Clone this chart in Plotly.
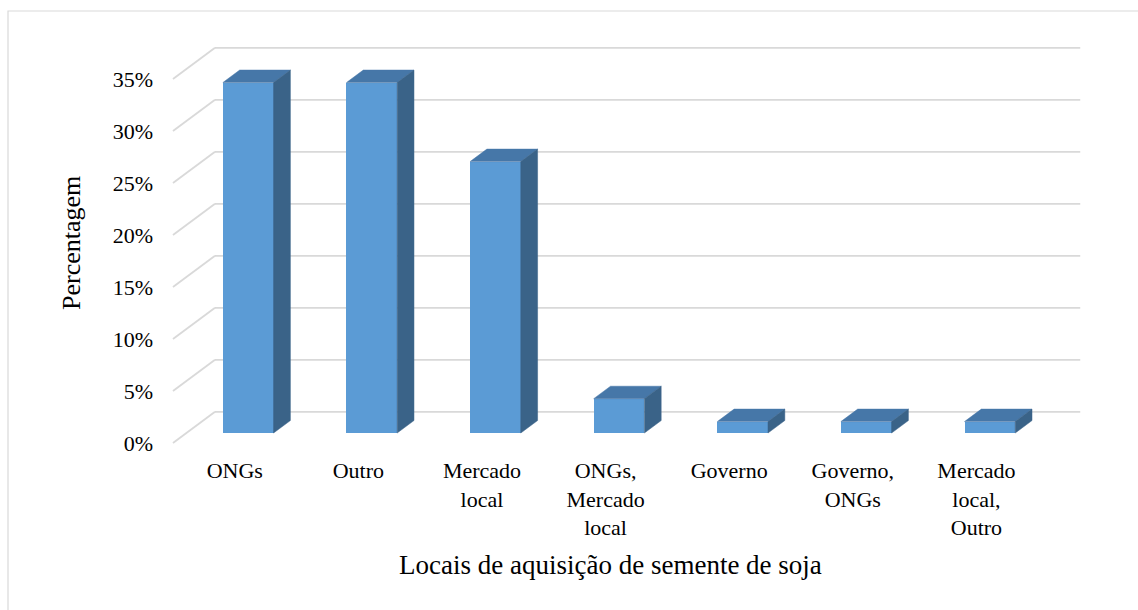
import plotly.graph_objects as go

# ---- data ----
categories = ["ONGs", "Outro", "Mercado<br>local", "ONGs,<br>Mercado<br>local",
              "Governo", "Governo,<br>ONGs", "Mercado<br>local,<br>Outro"]
values = [33.7, 33.7, 26.1, 3.3, 1.1, 1.1, 1.1]
y_ticks = [0, 5, 10, 15, 20, 25, 30, 35]
y_ticktext = [f"{v}%" for v in y_ticks]

# ---- 3D-look parameters (depth projection in data units) ----
DX = 0.34      # x shift of the back wall, in category units
DY = 3.0       # y shift of the back wall, in percent units
D0, D1 = 0.32, 0.72   # bar depth span (fraction of full depth)
BAR_W = 0.41

FRONT = "#5B9BD5"
TOP = "#4677A8"
SIDE = "#3A6388"
GRID = "#D9D9D9"
FONT = "Liberation Serif, Times New Roman, serif"

n = len(categories)
XMIN, XMAX = -0.105, 7.419
YMIN, YMAX = -0.673, 38.75

fig = go.Figure()

# gridlines on the back wall plus receding diagonals (axis scaffolding)
shapes = []
for v in y_ticks:
    shapes.append(dict(type="line", xref="x", yref="y", x0=DX, y0=v + DY, x1=n + DX, y1=v + DY,
                       line=dict(color=GRID, width=1.8), layer="below"))
    shapes.append(dict(type="line", xref="x", yref="y", x0=0, y0=v, x1=DX, y1=v + DY,
                       line=dict(color=GRID, width=1.8), layer="below"))

# outer chart border
pl, pr, pt, pb = 160, 1090, 40, 450
pw, ph = pr - pl, pb - pt
shapes.append(dict(type="rect", xref="paper", yref="paper",
                   x0=(8 - pl) / pw, x1=(1145 - pl) / pw,
                   y0=(pb - 620) / ph, y1=(pb - 11) / ph,
                   line=dict(color=GRID, width=1.2), fillcolor="rgba(0,0,0,0)", layer="below"))

# front faces
xs_front = [i + 0.5 + D0 * DX for i in range(n)]
fig.add_trace(go.Bar(x=xs_front, y=values, base=[D0 * DY] * n, width=BAR_W,
                     marker=dict(color=FRONT, line=dict(width=0)),
                     hoverinfo="skip", showlegend=False))

ddx = (D1 - D0) * DX
ddy = (D1 - D0) * DY
for xc, v in zip(xs_front, values):
    xl, xr = xc - BAR_W / 2, xc + BAR_W / 2
    b = D0 * DY
    t = v + D0 * DY
    # top face
    fig.add_trace(go.Scatter(x=[xl, xr, xr + ddx, xl + ddx, xl],
                             y=[t, t, t + ddy, t + ddy, t],
                             fill="toself", fillcolor=TOP, mode="lines",
                             line=dict(color=TOP, width=0.5),
                             hoverinfo="skip", showlegend=False))
    # side face
    fig.add_trace(go.Scatter(x=[xr, xr + ddx, xr + ddx, xr, xr],
                             y=[b, b + ddy, t + ddy, t, b],
                             fill="toself", fillcolor=SIDE, mode="lines",
                             line=dict(color=SIDE, width=0.5),
                             hoverinfo="skip", showlegend=False))

fig.update_layout(
    width=1138, height=610,
    margin=dict(l=pl, r=1138 - pr, t=pt, b=610 - pb, pad=0),
    paper_bgcolor="white", plot_bgcolor="white",
    shapes=shapes,
    font=dict(family=FONT, color="black"),
    xaxis=dict(range=[XMIN, XMAX], showgrid=False, zeroline=False, showline=False,
               tickvals=[i + 0.5 for i in range(n)], ticktext=categories,
               tickfont=dict(size=22, family=FONT), ticks="", ticklabelstandoff=5),
    yaxis=dict(range=[YMIN, YMAX], showgrid=False, zeroline=False, showline=False,
               tickvals=y_ticks, ticktext=y_ticktext,
               tickfont=dict(size=22, family=FONT), ticks="", ticklabelstandoff=6),
    annotations=[
        dict(text="Locais de aquisição de semente de soja", xref="paper", yref="paper",
             x=(610 - pl) / pw, y=(pb - 565) / ph, xanchor="center", yanchor="middle",
             showarrow=False, font=dict(size=27, family=FONT, color="black")),
        dict(text="Percentagem", xref="paper", yref="paper",
             x=(71 - pl) / pw, y=(pb - 243) / ph, xanchor="center", yanchor="middle",
             textangle=-90, showarrow=False, font=dict(size=26, family=FONT, color="black")),
    ],
    bargap=0,
)

fig.write_html("out.html", config={"displayModeBar": False},
               post_script="document.body.style.margin='0';document.body.style.overflow='hidden';")
